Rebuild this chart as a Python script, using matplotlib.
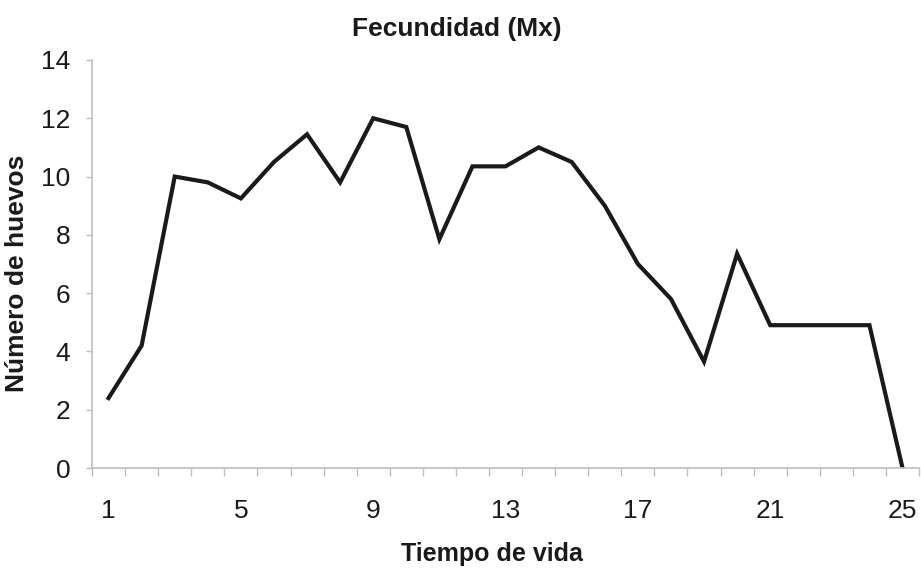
import numpy as np
import matplotlib.pyplot as plt

plt.rcParams['font.family'] = ['Liberation Sans', 'DejaVu Sans']

# datos
tiempo = list(range(1, 26))
huevos = [2.4, 4.2, 10.0, 9.8, 9.25, 10.5, 11.45, 9.8, 12.0, 11.7,
          7.85, 10.35, 10.35, 11.0, 10.5, 9.0, 7.0, 5.8, 3.65, 7.35,
          4.9, 4.9, 4.9, 4.9, 0.0]
xticklabels = [1, 5, 9, 13, 17, 21, 25]
yticks = [0, 2, 4, 6, 8, 10, 12, 14]

grey = '#bfbfbf'
txt = '#1a1a1a'

fig = plt.figure(figsize=(9.21, 5.69), dpi=100)
ax = fig.add_axes([0.0999, 0.1775, 0.898, 0.7171])

ax.plot(tiempo, huevos, color='#1a1a1a', linewidth=3, solid_joinstyle='miter')

ax.set_xlim(0.5, 25.5)
ax.set_ylim(0, 14)
ax.set_yticks(yticks)
ax.set_xticks(xticklabels)
ax.set_xticklabels([str(v) for v in xticklabels])
ax.set_xticks(np.arange(0.5, 26, 1), minor=True)

ax.tick_params(axis='x', which='major', length=0, pad=22, labelsize=19, labelcolor=txt)
ax.tick_params(axis='x', which='minor', length=6, width=1, color=grey, direction='out')
ax.tick_params(axis='y', length=4.5, width=1, color=grey, direction='out', pad=11,
               labelsize=19, labelcolor=txt)

for s in ['top', 'right']:
    ax.spines[s].set_visible(False)
for s in ['left', 'bottom']:
    ax.spines[s].set_color(grey)
    ax.spines[s].set_linewidth(1.2)

fig.text(0.496, 0.949, 'Fecundidad (Mx)', ha='center', va='center',
         fontsize=19, fontweight='bold', color=txt)
fig.text(0.534, 0.026, 'Tiempo de vida', ha='center', va='center',
         fontsize=18, fontweight='bold', color=txt)
fig.text(0.019, 0.52, 'Número de huevos', ha='center', va='center', rotation=90,
         fontsize=19, fontweight='bold', color=txt)

fig.savefig('out.png', dpi=100, facecolor='white')
